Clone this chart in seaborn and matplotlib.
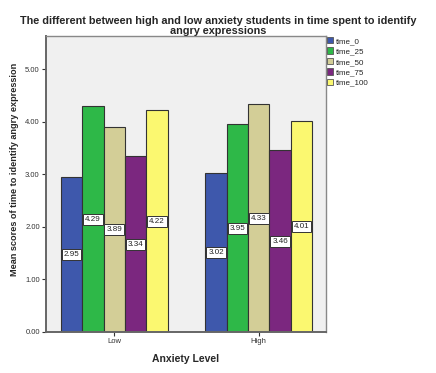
import matplotlib
matplotlib.use("Agg")
import matplotlib.pyplot as plt
import matplotlib.patches as mpatches
import seaborn as sns
import pandas as pd

categories = ["Low", "High"]
series = ["time_0", "time_25", "time_50", "time_75", "time_100"]
low_values = [2.95, 4.29, 3.89, 3.34, 4.22]
high_values = [3.02, 3.95, 4.33, 3.46, 4.01]
colors = ["#3E58AC", "#2EB848", "#D3CE97", "#7B277F", "#FBF870"]
yticks = [0.0, 1.0, 2.0, 3.0, 4.0, 5.0]

rows = []
for s, lv, hv in zip(series, low_values, high_values):
    rows.append({"Anxiety": "Low", "series": s, "value": lv})
    rows.append({"Anxiety": "High", "series": s, "value": hv})
df = pd.DataFrame(rows)

sns.set_style("white")
plt.rcParams["font.family"] = ["Liberation Sans", "DejaVu Sans"]

fig = plt.figure(figsize=(4.36, 3.73), dpi=100)
ax = fig.add_axes([46/436, 1-332/373, 280/436, 296/373])
ax.set_facecolor("#F0F0F0")

sns.barplot(data=df, x="Anxiety", y="value", hue="series", order=categories,
            hue_order=series, palette=colors, width=0.738, ax=ax,
            edgecolor="#333333", linewidth=0.8, saturation=1, errorbar=None)

for cont in ax.containers:
    for bar in cont:
        h = bar.get_height()
        ax.text(bar.get_x() + bar.get_width()/2, h/2, f"{h:.2f}", ha="center", va="center",
                fontsize=5.8, color="#222222",
                bbox=dict(boxstyle="square,pad=0.25", fc="white", ec="#333333", lw=0.7))

ax.set_xlim(-0.472, 1.465)
ax.set_ylim(0, 5.63)
ax.set_yticks(yticks)
ax.set_yticklabels([f"{v:.2f}" for v in yticks])
ax.tick_params(axis="both", labelsize=5.5, colors="#333333", length=3, width=0.8,
               direction="out", left=True, bottom=True, pad=1.5)
for sp in ax.spines.values():
    sp.set_color("#888888")
    sp.set_linewidth(1.0)
ax.spines["left"].set_linewidth(1.4)
ax.spines["bottom"].set_linewidth(1.4)
ax.spines["left"].set_color("#666666")
ax.spines["bottom"].set_color("#666666")

ax.set_xlabel("Anxiety Level", fontsize=7.5, fontweight="bold", labelpad=6)
ax.set_ylabel("")
fig.text(15/436, 1-169/373, "Mean scores of time to identify angry expression", rotation=90,
         ha="center", va="center", fontsize=6.6, fontweight="bold")

fig.text(218/436, 1-20.5/373, "The different between high and low anxiety students in time spent to identify",
         ha="center", va="center", fontsize=7.85, fontweight="bold")
fig.text(218/436, 1-31/373, "angry expressions", ha="center", va="center", fontsize=7.85, fontweight="bold")

ax.legend_.remove()
handles = [mpatches.Patch(facecolor=c, edgecolor="#555555", linewidth=0.6, label=s)
           for c, s in zip(colors, series)]
fig.legend(handles=handles, loc="upper left", bbox_to_anchor=(326.5/436, 1-37/373), frameon=False,
           fontsize=5.8, handlelength=0.85, handleheight=0.85, handletextpad=0.3,
           labelspacing=0.3, borderaxespad=0, borderpad=0)

fig.savefig("out.png", dpi=100)
